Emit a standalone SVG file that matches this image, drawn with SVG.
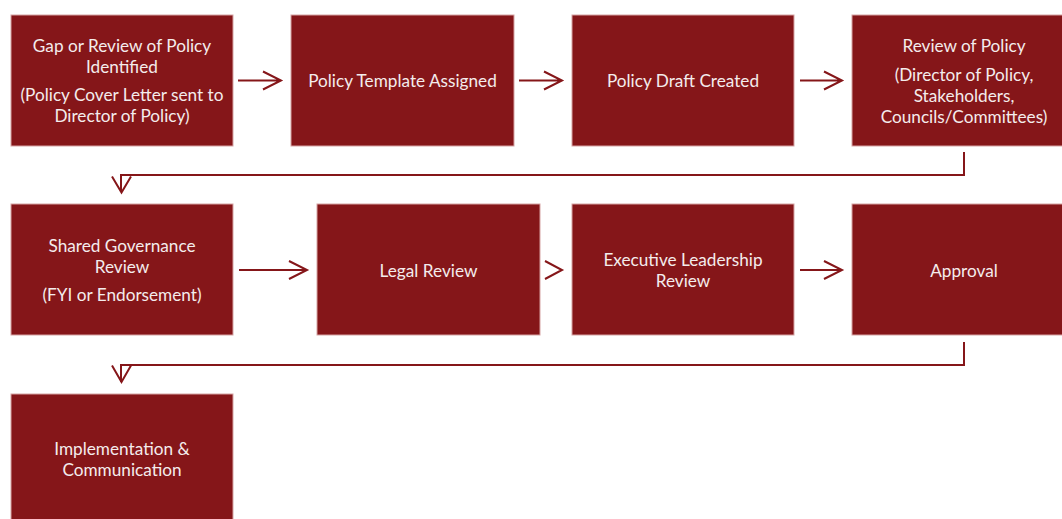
<svg xmlns="http://www.w3.org/2000/svg" width="1062" height="519" viewBox="0 0 1062 519">
<style>
.box{fill:#851619;stroke:#d6a3a4;stroke-width:1}
.t{font-family:Lato,"Open Sans","Liberation Sans",sans-serif;font-size:17.2px;fill:#f4ecec;text-anchor:middle}
.c{fill:none;stroke:#851619;stroke-width:2}
</style>
<rect width="1062" height="519" fill="#ffffff"/>
<g id="n1"><rect class="box" x="11" y="15" width="222" height="131"/>
<text class="t"><tspan x="122" y="52">Gap or Review of Policy</tspan><tspan x="122" y="73">Identified</tspan><tspan x="122" y="101">(Policy Cover Letter sent to</tspan><tspan x="122" y="122">Director of Policy)</tspan></text></g>
<g id="n2"><rect class="box" x="291" y="15" width="223" height="131"/>
<text class="t" x="402.5" y="87">Policy Template Assigned</text></g>
<g id="n3"><rect class="box" x="572" y="15" width="222" height="131"/>
<text class="t" x="683" y="87">Policy Draft Created</text></g>
<g id="n4"><rect class="box" x="852" y="15" width="224" height="131"/>
<text class="t"><tspan x="964" y="52">Review of Policy</tspan><tspan x="964" y="81">(Director of Policy,</tspan><tspan x="964" y="102">Stakeholders,</tspan><tspan x="964" y="123">Councils/Committees)</tspan></text></g>
<g id="n5"><rect class="box" x="11" y="204" width="222" height="131"/>
<text class="t"><tspan x="122" y="252">Shared Governance</tspan><tspan x="122" y="273">Review</tspan><tspan x="122" y="301">(FYI or Endorsement)</tspan></text></g>
<g id="n6"><rect class="box" x="317" y="204" width="223" height="131"/>
<text class="t" x="428.5" y="277">Legal Review</text></g>
<g id="n7"><rect class="box" x="572" y="204" width="222" height="131"/>
<text class="t"><tspan x="683" y="266">Executive Leadership</tspan><tspan x="683" y="287">Review</tspan></text></g>
<g id="n8"><rect class="box" x="852" y="204" width="224" height="131"/>
<text class="t" x="964" y="277">Approval</text></g>
<g id="n9"><rect class="box" x="11" y="394" width="222" height="131"/>
<text class="t"><tspan x="122" y="455">Implementation &amp;</tspan><tspan x="122" y="476">Communication</tspan></text></g>
<g id="connectors">
<path class="c" d="M238 80.5H281M263 71.5L281 80.5L263 89.5"/>
<path class="c" d="M519 80.5H562M544 71.5L562 80.5L544 89.5"/>
<path class="c" d="M800 80.5H842M824 71.5L842 80.5L824 89.5"/>
<path class="c" d="M964 152V175H121V192M112 176.5L121.5 192.5L131 176.5"/>
<path class="c" d="M239 270H307M289 261L307 270L289 279"/>
<path class="c" d="M545 261L562 270L545 279"/>
<path class="c" d="M800 270H842M824 261L842 270L824 279"/>
<path class="c" d="M964 342V365H121V382M112 365.5L121.5 382L131 365.5"/>
</g>
</svg>
